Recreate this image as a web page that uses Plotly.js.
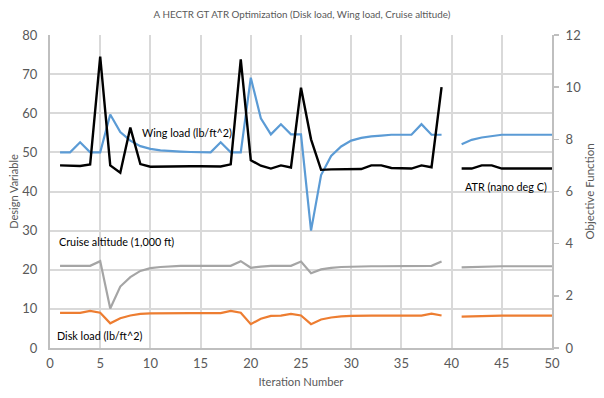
<!DOCTYPE html>
<html>
<head>
<meta charset="utf-8">
<script src="https://cdn.plot.ly/plotly-3.0.1.min.js"></script>
<style>
  html, body { margin: 0; padding: 0; background: #fff; }
  #chart { width: 604px; height: 398px; }
</style>
</head>
<body>
<div id="chart"></div>
<script>
// Iterations 1..50 (no data recorded at iteration 40)
const iterations = Array.from({length: 50}, (_, i) => i + 1);

// Design variables (left axis)
const wingLoad = [
  50.0, 50.0, 52.6, 50.0, 50.0, 59.7, 55.2, 53.0, 51.6, 50.9,
  50.5, 50.3, 50.2, 50.1, 50.0, 50.0, 52.6, 50.0, 50.0, 69.1,
  58.7, 54.6, 57.2, 54.6, 54.6, 30.0, 44.2, 49.1, 51.5, 53.0,
  53.7, 54.1, 54.3, 54.5, 54.5, 54.5, 57.2, 54.5, 54.5, null,
  52.1, 53.2, 53.8, 54.2, 54.5, 54.5, 54.5, 54.5, 54.5, 54.5
];
const cruiseAltitude = [
  21.0, 21.0, 21.0, 21.0, 22.2, 10.1, 15.7, 18.1, 19.7, 20.4,
  20.7, 20.9, 21.0, 21.0, 21.0, 21.0, 21.0, 21.0, 22.2, 20.5,
  20.8, 21.0, 21.0, 21.0, 22.1, 19.1, 20.1, 20.5, 20.7, 20.8,
  20.9, 20.9, 20.9, 20.9, 20.9, 20.9, 20.9, 21.0, 22.1, null,
  20.6, 20.7, 20.8, 20.9, 20.9, 20.9, 20.9, 20.9, 20.9, 20.9
];
const diskLoad = [
  9.0, 9.0, 9.0, 9.5, 9.0, 6.3, 7.6, 8.3, 8.7, 8.85,
  8.9, 8.9, 8.9, 8.9, 8.9, 8.9, 8.9, 9.5, 9.0, 6.1,
  7.5, 8.2, 8.3, 8.7, 8.3, 6.1, 7.3, 7.8, 8.1, 8.2,
  8.3, 8.3, 8.3, 8.3, 8.3, 8.3, 8.3, 8.8, 8.3, null,
  8.0, 8.1, 8.2, 8.25, 8.25, 8.25, 8.25, 8.25, 8.25, 8.25
];

// Objective function (right axis)
const atr = [
  7.0, 7.0, 6.98, 7.04, 11.17, 7.0, 6.72, 8.45, 7.05, 6.95,
  6.96, 6.97, 6.97, 6.97, 6.97, 6.97, 6.96, 7.04, 11.07, 7.2,
  6.99, 6.88, 7.0, 6.92, 9.98, 8.0, 6.83, 6.85, 6.85, 6.86,
  6.86, 7.0, 7.0, 6.9, 6.88, 6.88, 7.0, 6.93, 10.0, null,
  6.88, 6.88, 7.0, 7.0, 6.88, 6.88, 6.88, 6.88, 6.88, 6.88
];

const seriesLabels = {
  wing: 'Wing load (lb/ft^2)',
  atr: 'ATR (nano deg C)',
  cruise: 'Cruise altitude (1,000 ft)',
  disk: 'Disk load (lb/ft^2)'
};

const FONT = 'Lato, "Open Sans", sans-serif';
const TXT = '#595959';
const GRID = '#D9D9D9';
const AXIS = '#BFBFBF';

const traces = [
  {x: iterations, y: wingLoad, name: seriesLabels.wing, mode: 'lines',
   line: {color: '#5B9BD5', width: 2.2}, connectgaps: false},
  {x: iterations, y: cruiseAltitude, name: seriesLabels.cruise, mode: 'lines',
   line: {color: '#A5A5A5', width: 2.2}, connectgaps: false},
  {x: iterations, y: diskLoad, name: seriesLabels.disk, mode: 'lines',
   line: {color: '#ED7D31', width: 2.2}, connectgaps: false},
  {x: iterations, y: atr, name: seriesLabels.atr, mode: 'lines', yaxis: 'y2',
   line: {color: '#000000', width: 2.4}, connectgaps: false}
];

// In-plot series labels
const label = (text, x, y) => ({
  text, x, y, xref: 'x', yref: 'y', showarrow: false,
  font: {family: FONT, size: 10.8, color: '#000'}
});

const layout = {
  width: 604, height: 398,
  margin: {l: 50, r: 52, t: 35, b: 50},
  paper_bgcolor: '#fff', plot_bgcolor: '#fff',
  showlegend: false,
  font: {family: FONT, color: TXT, size: 13},
  title: {text: 'A HECTR GT ATR Optimization (Disk load, Wing load, Cruise altitude)',
          font: {family: FONT, size: 9.8, color: TXT}, x: 0.5, xanchor: 'center',
          y: 1 - 15 / 398, yanchor: 'middle', yref: 'container'},
  xaxis: {
    range: [0, 50], dtick: 5, tick0: 0,
    showgrid: true, gridcolor: GRID, gridwidth: 2,
    showline: true, linecolor: AXIS, linewidth: 2,
    zeroline: false, ticks: '', ticklabelstandoff: 2,
    tickfont: {family: FONT, size: 13, color: TXT},
    title: {text: 'Iteration Number', font: {family: FONT, size: 11.2, color: TXT}, standoff: 9}
  },
  yaxis: {
    range: [0, 80], dtick: 10, tick0: 0,
    showgrid: true, gridcolor: GRID, gridwidth: 2,
    showline: true, linecolor: AXIS, linewidth: 2,
    zeroline: false, ticks: '', ticklabelstandoff: 8,
    tickfont: {family: FONT, size: 13, color: TXT},
    title: {text: 'Design Variable', font: {family: FONT, size: 11, color: TXT}, standoff: 1}
  },
  yaxis2: {
    range: [0, 12], dtick: 2, tick0: 0, overlaying: 'y', side: 'right',
    showgrid: false, showline: true, linecolor: AXIS, linewidth: 2,
    zeroline: false, ticks: 'outside', ticklen: 5, tickcolor: AXIS, tickwidth: 1.5,
    ticklabelstandoff: 4,
    tickfont: {family: FONT, size: 13, color: TXT},
    title: {text: 'Objective Function', font: {family: FONT, size: 11.5, color: TXT}, standoff: 6}
  },
  annotations: [
    label(seriesLabels.wing, 13.65, 55.0),
    label(seriesLabels.atr, 45.4, 41.2),
    label(seriesLabels.cruise, 6.6, 27.2),
    label(seriesLabels.disk, 4.95, 3.1)
  ]
};

Plotly.newPlot('chart', traces, layout, {displayModeBar: false, staticPlot: true});
</script>
</body>
</html>
